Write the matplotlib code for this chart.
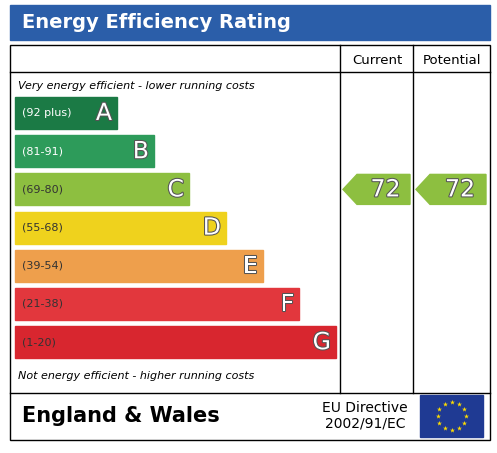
import numpy as np
import matplotlib
matplotlib.use("Agg")
import matplotlib.pyplot as plt
import matplotlib.patheffects as pe
from matplotlib.patches import Rectangle, Polygon

bands = ["A", "B", "C", "D", "E", "F", "G"]
ranges = ["(92 plus)", "(81-91)", "(69-80)", "(55-68)", "(39-54)", "(21-38)", "(1-20)"]
colours = ["#1b7a45", "#2d9b5a", "#8dbf40", "#efd21d", "#ee9f4c", "#e2373d", "#d8262f"]
lows = [92, 81, 69, 55, 39, 21, 1]
current = 72
potential = 72

fig = plt.figure(figsize=(4.97, 4.53), dpi=100)
ax = fig.add_axes([0, 0, 1, 1])
ax.set_xlim(0, 497)
ax.set_ylim(453, 0)
ax.axis("off")

# header
ax.add_patch(Rectangle((10, 5), 480, 35, color="#2b5ea9"))
ax.text(22, 23, "Energy Efficiency Rating", color="white", fontsize=14, fontweight="bold", va="center")

# frame
ax.add_patch(Rectangle((10, 45), 480, 395, fill=False, lw=1, ec="black"))
for x in (340, 413):
    ax.plot([x, x], [45, 393], color="black", lw=1)
ax.plot([10, 490], [72, 72], color="black", lw=1)
ax.plot([10, 490], [393, 393], color="black", lw=1)
ax.text(377, 60, "Current", ha="center", va="center", fontsize=9.5)
ax.text(452, 60, "Potential", ha="center", va="center", fontsize=9.5)

ax.text(18, 86, "Very energy efficient - lower running costs", fontsize=8, style="italic", va="center")
ax.text(18, 376, "Not energy efficient - higher running costs", fontsize=8, style="italic", va="center")

outline = [pe.withStroke(linewidth=1.5, foreground="#555555")]
top0, step, h = 97, 38.2, 32
rights = [117, 154, 189, 226, 263, 299, 336]
for i, (b, r, c) in enumerate(zip(bands, ranges, colours)):
    y = top0 + i * step
    ax.add_patch(Rectangle((15, y), rights[i] - 15, h, color=c))
    ax.text(22, y + h / 2, r, fontsize=8, va="center", color="white" if i in (0, 1) else "#333333")
    ax.text(rights[i] - 5, y + h / 2, b, fontsize=17, ha="right", va="center",
            color="white", path_effects=outline)


def band_index(v):
    for i, lo in enumerate(lows):
        if v >= lo:
            return i
    return len(lows) - 1


def arrow(x0, x1, v):
    i = band_index(v)
    yc = top0 + i * step + h / 2
    hh = 15
    pts = [(x0, yc), (x0 + 14, yc - hh), (x1, yc - hh), (x1, yc + hh), (x0 + 14, yc + hh)]
    ax.add_patch(Polygon(pts, color=colours[i]))
    ax.text((x0 + 14 + x1) / 2 + 2, yc, str(v), fontsize=17, ha="center", va="center", color="white",
            path_effects=outline)


arrow(343, 410, current)
arrow(416, 486, potential)

# footer
ax.text(22, 416, "England & Wales", fontsize=15, fontweight="bold", va="center")
ax.text(365, 416, "EU Directive\n2002/91/EC", fontsize=10, ha="center", va="center", linespacing=1.1)
ax.add_patch(Rectangle((420, 395), 63, 42, color="#1f3a93"))
ang = np.linspace(0, 2 * np.pi, 13)[:-1]
ax.scatter(451.5 + 14 * np.cos(ang), 416 + 14 * np.sin(ang), marker="*", s=14, color="#ffdd00", lw=0)

fig.savefig("out.png", dpi=100)
